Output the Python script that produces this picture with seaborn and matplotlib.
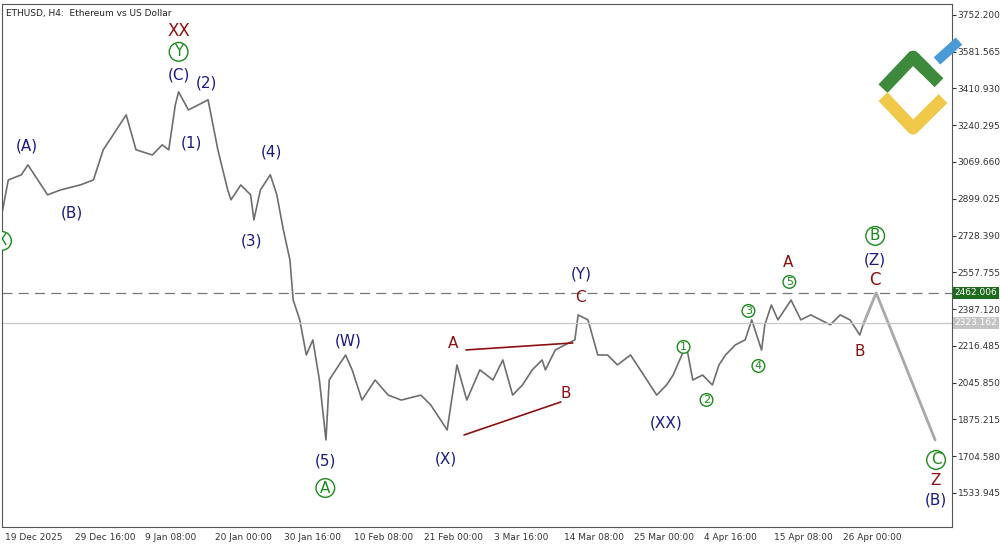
import matplotlib
matplotlib.use("Agg")
import matplotlib.pyplot as plt
import seaborn as sns
import pandas as pd

# 4h bar index (0 = 19 Dec 2025 00:00) and price
bars = [-3, 3, 15, 21, 39, 51, 69, 81, 90, 99, 111, 120, 135, 144, 150, 156, 159, 168,
        177, 186, 195, 204, 207, 216, 225, 228, 234, 243, 249, 255, 261, 264, 270, 276,
        282, 288, 294, 297, 303, 312, 318, 327, 339, 351, 363, 381, 390, 399, 405, 414,
        423, 435, 447, 456, 465, 474, 483, 492, 495, 504, 513, 522, 525, 534, 543, 552,
        561, 573, 588, 597, 606, 612, 618, 624, 630, 639, 648, 654, 660, 669, 678, 684,
        693, 696, 702, 708, 720, 729, 738, 747, 756, 765, 774, 783, 786]
prices = [2824, 2986, 3010, 3056, 2917, 2940, 2963, 2986, 3126, 3195, 3288, 3126, 3102,
          3149, 3126, 3334, 3395, 3311, 3334, 3358, 3126, 2940, 2894, 2963, 2917, 2801,
          2940, 3010, 2917, 2754, 2615, 2429, 2337, 2174, 2244, 2058, 1780, 2058, 2105,
          2174, 2105, 1965, 2058, 1988, 1965, 1988, 1942, 1873, 1826, 2128, 1965, 2105,
          2058, 2151, 1988, 2035, 2105, 2151, 2105, 2197, 2221, 2244, 2360, 2337, 2174,
          2174, 2128, 2174, 2058, 1988, 2035, 2081, 2151, 2221, 2058, 2081, 2035, 2128,
          2174, 2221, 2244, 2337, 2197, 2314, 2406, 2337, 2429, 2337, 2360, 2337, 2314,
          2360, 2337, 2267, 2314]
fc_bars = [786, 798, 852]
fc_prices = [2314, 2462, 1780]

tick_bars = [0, 64, 128, 192, 256, 320, 384, 448, 512, 576, 640, 704, 768]
tick_labels = ["19 Dec 2025", "29 Dec 16:00", "9 Jan 08:00", "20 Jan 00:00", "30 Jan 16:00",
               "10 Feb 08:00", "21 Feb 00:00", "3 Mar 16:00", "14 Mar 08:00", "25 Mar 00:00",
               "4 Apr 16:00", "15 Apr 08:00", "26 Apr 00:00"]
price_ticks = [3752.200, 3581.565, 3410.930, 3240.295, 3069.660, 2899.025, 2728.390,
               2557.755, 2387.120, 2216.485, 2045.850, 1875.215, 1704.580, 1533.945]
resistance = 2462.006
last_price = 2323.162


# pixel -> data mapping, used only for annotation placement
def bx(px):
    return (px - 3) / 1.094


def py(y):
    return 3821.8 - 4.641 * y


sns.set_style("white")
plt.rcParams["font.family"] = ["DejaVu Sans"]
fig = plt.figure(figsize=(10, 5.45), dpi=100)
ax = fig.add_axes([0.002, 0.033, 0.95, 0.96])

df = pd.DataFrame({"bar": bars, "price": prices})
sns.lineplot(data=df, x="bar", y="price", ax=ax, color="#6e6e6e", lw=1.2)
sns.lineplot(x=fc_bars, y=fc_prices, ax=ax, color="#a8a8a8", lw=2)

ax.axhline(resistance, color="#777777", ls=(0, (8, 5)), lw=0.9)
ax.axhline(last_price, color="#c8c8c8", lw=0.9)

ax.set_xticks(tick_bars)
ax.set_xticklabels(tick_labels, fontsize=6.5)
ax.set_xlim(bx(0), bx(952))
ax.set_ylim(py(527), py(4))
ax.yaxis.tick_right()
ax.set_yticks(price_ticks)
ax.set_yticklabels([f"{v:.3f}" for v in price_ticks], fontsize=6.5)
ax.tick_params(length=3, pad=1, colors="#333333")
for lbl in ax.get_xticklabels():
    lbl.set_horizontalalignment("left")
ax.set_xlabel("")
ax.set_ylabel("")
for s in ax.spines.values():
    s.set_color("#555555")
    s.set_linewidth(0.8)

for val, bg in [(resistance, "#1e6b1e"), (last_price, "#c4c4c4")]:
    ax.text(1.003, val, f"{val:.3f}", transform=ax.get_yaxis_transform(), fontsize=6.5,
            color="white", va="center", ha="left",
            bbox=dict(boxstyle="square,pad=0.15", fc=bg, ec="none"))

ax.text(0.004, 0.99, "ETHUSD, H4:  Ethereum vs US Dollar", transform=ax.transAxes,
        fontsize=6.5, va="top", ha="left", color="#222222")

navy, red, green = "#1a1a80", "#8b1010", "#1a8a1a"
labels = [
    ("XX", 177, 31, red, 12, None), ("Y", 177, 52, green, 11, "big"),
    ("(C)", 177, 75, navy, 11, None), ("(2)", 205, 83, navy, 11, None),
    ("(1)", 190, 143, navy, 11, None), ("(A)", 25, 146, navy, 11, None),
    ("(B)", 70, 213, navy, 11, None), ("(4)", 270, 152, navy, 11, None),
    ("(3)", 250, 241, navy, 11, None), ("(5)", 324, 461, navy, 11, None),
    ("A", 324, 488, green, 11, "big"), ("(W)", 347, 341, navy, 11, None),
    ("A", 452, 344, red, 11, None), ("B", 565, 394, red, 11, None),
    ("(X)", 445, 459, navy, 11, None), ("(Y)", 580, 274, navy, 11, None),
    ("C", 580, 298, red, 11, None), ("(XX)", 666, 423, navy, 11, None),
    ("1", 683, 347, green, 8, "small"), ("2", 706, 400, green, 8, "small"),
    ("3", 748, 311, green, 8, "small"), ("4", 758, 366, green, 8, "small"),
    ("5", 789, 282, green, 8, "small"), ("A", 788, 263, red, 11, None),
    ("B", 875, 236, green, 11, "big"), ("(Z)", 875, 260, navy, 11, None),
    ("C", 875, 280, red, 12, None), ("B", 860, 352, red, 11, None),
    ("C", 936, 460, green, 11, "big"), ("Z", 936, 481, red, 11, None),
    ("(B)", 936, 500, navy, 11, None), ("X", 0, 241, green, 11, "big"),
]
for txt, x, y, c, fs, circ in labels:
    kw = {}
    if circ:
        kw["bbox"] = dict(boxstyle="circle,pad=0.12", fc="white", ec=green, lw=1)
    ax.text(bx(x), py(y), txt, color=c, fontsize=fs, ha="center", va="center",
            clip_on=True, **kw)

for (x1, y1), (x2, y2) in [((465, 350), (572, 343)), ((463, 435), (560, 402))]:
    ax.plot([bx(x1), bx(x2)], [py(y1), py(y2)], color=red, lw=1.2)

# logo
lax = fig.add_axes([0.875, 0.75, 0.09, 0.2])
lax.set_xlim(0, 90)
lax.set_ylim(0, 110)
lax.axis("off")
lax.plot([8, 38, 64], [48, 80, 54], color="#3d8a3d", lw=9, solid_capstyle="butt")
lax.plot([62, 84], [76, 96], color="#4a9ad8", lw=7, solid_capstyle="butt")
lax.plot([8, 38, 68], [40, 8, 38], color="#f0c84a", lw=9, solid_capstyle="butt")
lax.plot([38, 50], [80, 68], color="#3d8a3d", lw=9)

fig.savefig("out.png", dpi=100)
